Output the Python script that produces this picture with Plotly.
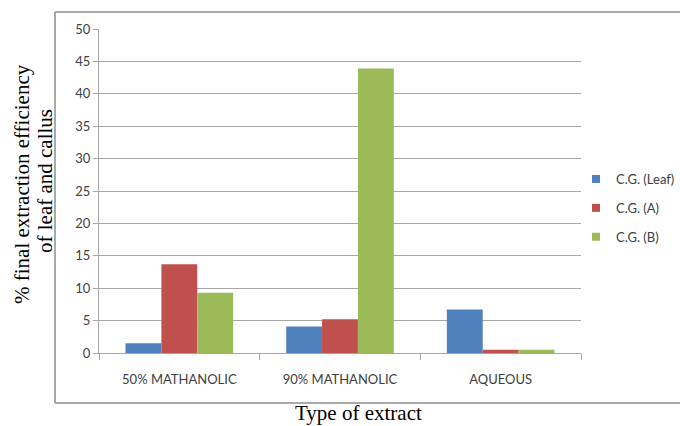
import plotly.graph_objects as go

categories = ["50% MATHANOLIC", "90% MATHANOLIC", "AQUEOUS"]
leaf = [1.5, 4.1, 6.7]
callus_a = [13.7, 5.2, 0.5]
callus_b = [9.3, 43.9, 0.5]
series_names = ["C.G. (Leaf)", "C.G. (A)", "C.G. (B)"]
colors = ["#4F81BD", "#C0504D", "#9BBB59"]

tick_font = dict(family="Lato, Open Sans, sans-serif", size=13, color="#404040")
title_font = dict(family="Liberation Serif, Times New Roman, serif", size=21, color="#000000")

fig = go.Figure()
for name, vals, col in zip(series_names, [leaf, callus_a, callus_b], colors):
    fig.add_trace(go.Bar(
        x=categories, y=vals, name=name,
        marker=dict(color=col, line=dict(width=0)),
        showlegend=False,
    ))
# small square legend keys
for name, col in zip(series_names, colors):
    fig.add_trace(go.Scatter(
        x=[None], y=[None], mode="markers", name=name,
        marker=dict(symbol="square", size=8, color=col),
        legendgroup=name,
    ))

W, H = 680, 426
L, R, T, B = 99, 99, 29, 73
pw, ph = W - L - R, H - T - B

def px(x):
    return (x - L) / pw

def py(y):
    return (H - B - y) / ph

# y-axis title drawn as two rotated lines
ytitle_lines = [("% final extraction efficiency", 22, 184), ("of leaf and callus", 45, 181)]
annotations = [
    dict(text=t, x=px(xc), y=py(yc), xref="paper", yref="paper",
         xanchor="center", yanchor="middle", textangle=-90,
         showarrow=False, font=title_font)
    for t, xc, yc in ytitle_lines
]
annotations.append(
    dict(text="Type of extract", x=px(358), y=py(413), xref="paper", yref="paper",
         xanchor="center", yanchor="middle", showarrow=False, font=title_font)
)

fig.update_layout(
    width=W, height=H,
    margin=dict(l=L, r=R, t=T, b=B, autoexpand=False),
    paper_bgcolor="white", plot_bgcolor="white",
    barmode="group", bargap=0.33, bargroupgap=0,
    showlegend=True,
    legend=dict(x=px(576), y=py(164), xanchor="left", yanchor="top",
                font=tick_font, tracegroupgap=9, itemwidth=30,
                bgcolor="rgba(0,0,0,0)"),
    xaxis=dict(showgrid=False, showline=True, linecolor="#a6a6a6", linewidth=1,
               ticks="outside", tickson="boundaries", ticklen=6, tickcolor="#a6a6a6",
               tickfont=tick_font, ticklabelstandoff=14),
    yaxis=dict(range=[0, 50], dtick=5, showgrid=True, gridcolor="#a6a6a6", gridwidth=1,
               showline=True, linecolor="#a6a6a6", linewidth=1,
               ticks="outside", ticklen=5, tickcolor="#a6a6a6",
               tickfont=tick_font, zeroline=False),
    annotations=annotations,
    shapes=[
        dict(type="line", xref="paper", yref="paper",
             x0=px(55), x1=px(55), y0=py(403), y1=py(12),
             line=dict(color="#8c8c8c", width=1.5)),
        dict(type="line", xref="paper", yref="paper",
             x0=px(55), x1=px(690), y0=py(12), y1=py(12),
             line=dict(color="#8c8c8c", width=1.5)),
        dict(type="line", xref="paper", yref="paper",
             x0=px(55), x1=px(690), y0=py(403), y1=py(403),
             line=dict(color="#8c8c8c", width=1.5)),
    ],
)

fig.write_html("out.html")
